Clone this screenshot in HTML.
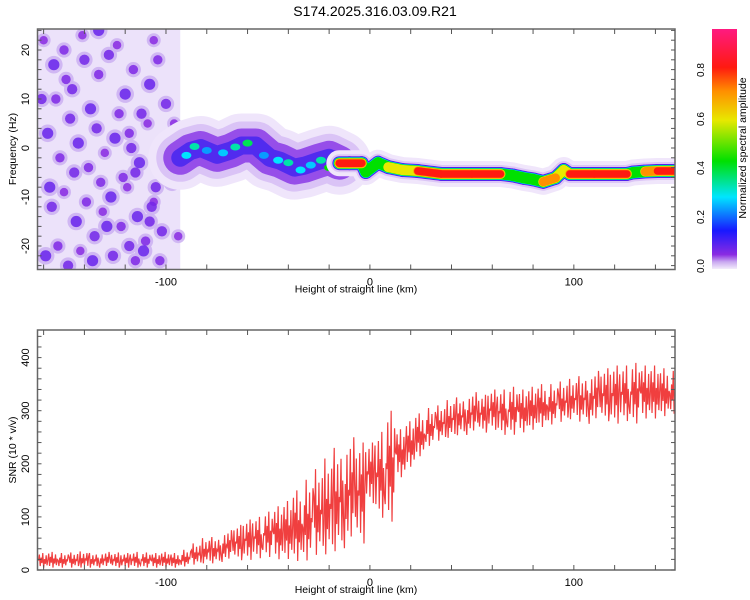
<!DOCTYPE html>
<html><head><meta charset="utf-8"><style>
body{margin:0;background:#fff;}
svg{display:block;font-family:"Liberation Sans",sans-serif;}
</style></head><body>
<svg id="svg" width="750" height="600" viewBox="0 0 750 600">
<defs>
<linearGradient id="cbar" x1="0" y1="1" x2="0" y2="0">
<stop offset="0" stop-color="#f3ecfb"/><stop offset="0.03" stop-color="#c9a8f0"/>
<stop offset="0.06" stop-color="#8a2be2"/><stop offset="0.16" stop-color="#1818ff"/>
<stop offset="0.3" stop-color="#00e5ff"/><stop offset="0.45" stop-color="#00e000"/>
<stop offset="0.62" stop-color="#e8e800"/><stop offset="0.74" stop-color="#ff9000"/>
<stop offset="0.84" stop-color="#ff1a10"/><stop offset="1" stop-color="#ff1a80"/>
</linearGradient>
<clipPath id="clipTop"><rect x="37.5" y="29" width="637.5" height="240.5"/></clipPath>
<clipPath id="clipBot"><rect x="37.5" y="330" width="637.5" height="240"/></clipPath>
</defs>
<text x="375" y="16" text-anchor="middle" font-size="14" fill="#000">S174.2025.316.03.09.R21</text>
<g id="topPanel"></g>
<g id="botPanel"></g>
<g id="cbPanel"></g>
</svg>
<script>
// ---- data ----
const xTicks = [-100, 0, 100];
const freqTicks = [20, 10, 0, -10, -20];
const snrTicks = [0, 100, 200, 300, 400];
const cbTicks = [0.0, 0.2, 0.4, 0.6, 0.8];
const diffuseKm = [-93,-88,-83,-75,-68,-63,-56,-49,-44,-37,-32,-25,-20,-15];
const diffuseHz = [-2,-0.6,0,-1.4,-0.5,0.5,0.5,-2,-2.6,-4,-3.6,-2.6,-2,-3];
const ridgeKm = [-15,-10,-4,-2,4,9,16,23.5,35,50,64,70,75.5,80,85,91,95,98,110,126,129,135,141,150];
const ridgeHz = [-3.1,-3.1,-3.1,-4.9,-3,-3.9,-4.5,-4.7,-5.3,-5.3,-5.3,-5.6,-6.1,-6.4,-6.9,-6.1,-4.5,-5.3,-5.3,-5.3,-5.0,-4.8,-4.7,-4.7];
const ridgeAmp = [0.9,0.9,0.9,0.5,0.6,0.95,0.7,0.9,0.95,0.95,0.95,0.6,0.9,0.6,0.95,0.8,0.7,0.95,0.95,0.95,0.6,0.8,0.95,0.95];
const spotKm = [-90,-86,-80,-72,-66,-60,-52,-45,-40,-34,-29,-24,-20];
const spotHz = [-1.5,0.3,-0.5,-1,0.2,1,-1.5,-2.5,-3,-4.5,-3.5,-2.5,-4];
const spotLvl = [0.3,0.35,0.25,0.28,0.35,0.4,0.25,0.3,0.35,0.3,0.28,0.35,0.45];
const noiseKm = [-160,-155,-150,-146,-141,-137,-133,-128,-124,-120,-116,-112,-108,-104,-100,-96,-158,-152,-147,-143,-138,-134,-130,-125,-121,-117,-113,-109,-105,-101,-97,-156,-150,-144,-139,-135,-131,-127,-122,-118,-114,-110,-106,-102,-159,-153,-148,-142,-136,-132,-126,-119,-115,-111,-107,-103,-98,-94,-161,-157,-149,-140,-129,-123,-115,-106,-99,-154,-145,-133,-118,-108];
const noiseHz = [22,17,20,12,23,8,15,19,21,11,16,7,13,18,9,5,3,-2,6,1,-4,4,-1,2,-6,0,-3,5,-8,-1,-7,-12,-9,-15,-11,-18,-13,-10,-16,-20,-14,-19,-11,-17,-22,-20,-24,-21,-23,-7,-22,-8,-23,-21,-12,-23,-6,-18,10,-8,14,18,-16,7,-5,22,-3,10,-5,24,3,-15];
const noiseLvl = [0.05,0.08,0.06,0.07,0.05,0.08,0.06,0.07,0.05,0.08,0.06,0.07,0.08,0.06,0.07,0.05,0.08,0.06,0.07,0.08,0.06,0.07,0.05,0.08,0.06,0.07,0.08,0.05,0.07,0.06,0.08,0.07,0.05,0.08,0.06,0.07,0.05,0.08,0.06,0.07,0.08,0.06,0.05,0.07,0.08,0.06,0.07,0.05,0.08,0.06,0.07,0.05,0.06,0.08,0.07,0.06,0.08,0.05,0.07,0.08,0.06,0.07,0.08,0.06,0.07,0.05,0.08,0.06,0.07,0.08,0.06,0.07];
const snrBinKm = [];
for (let k=-160;k<=150;k+=5) snrBinKm.push(k);
const snrLow = [3,3,3,3,3,3,3,3,3,3,3,3,3,3,5,8,10,10,12,15,15,18,20,15,15,10,10,20,20,25,30,40,120,90,80,170,190,210,230,240,245,250,250,255,260,250,250,255,260,265,270,275,280,275,270,275,270,275,270,280,280,285,290];
const snrHigh = [32,34,32,33,35,32,34,33,32,34,33,32,34,32,38,50,60,62,75,85,95,100,110,120,130,150,170,190,210,230,250,240,240,260,300,265,280,295,305,310,320,325,335,330,340,340,345,340,345,350,350,355,360,365,375,380,385,385,390,385,385,380,375];

// ---- helpers ----
const NS="http://www.w3.org/2000/svg";
function mk(tag, attrs, parent){const e=document.createElementNS(NS,tag);for(const k in attrs)e.setAttribute(k,attrs[k]);parent.appendChild(e);return e;}
const X0=37.5,X1=675,KM0=-163,KM1=149.6;
const xs = km => X0+(km-KM0)/(KM1-KM0)*(X1-X0);
const yF = hz => 148-hz*4.9;
const yS = v => 570-v*0.531;
const stops=[[0,[243,236,251]],[0.03,[201,168,240]],[0.06,[138,43,226]],[0.16,[24,24,255]],[0.3,[0,229,255]],[0.45,[0,224,0]],[0.62,[232,232,0]],[0.74,[255,144,0]],[0.84,[255,26,16]],[1,[255,26,128]]];
function cmap(v){for(let i=1;i<stops.length;i++){if(v<=stops[i][0]){const a=stops[i-1],b=stops[i],t=(v-a[0])/(b[0]-a[0]);return `rgb(${a[1].map((c,j)=>Math.round(c+(b[1][j]-c)*t)).join(',')})`;}}return 'rgb(255,26,128)';}

// ---- top panel ----
const topPanel=document.getElementById('topPanel');
const tg=mk('g',{'clip-path':'url(#clipTop)'},topPanel);
const noiseBg=mk('rect',{x:X0,y:29,width:xs(-93)-X0,height:241,fill:'#ece2fa'},tg);


for(let i=0;i<noiseKm.length;i++){
  const c=mk('circle',{cx:xs(noiseKm[i]),cy:yF(noiseHz[i]),r:4+noiseLvl[i]*60,fill:'#cdb2f2',opacity:0.9},tg);
  
  
}
for(let i=0;i<noiseKm.length;i++){
  const c=mk('circle',{cx:xs(noiseKm[i]),cy:yF(noiseHz[i]),r:2+noiseLvl[i]*45,fill:cmap(noiseLvl[i]+0.01),opacity:0.85},tg);
  
  
}
const dPts=diffuseKm.map((k,i)=>xs(k)+','+yF(diffuseHz[i])).join(' ');
[[64,'#efe5fb',1],[48,'#d7bff5',0.9],[34,'#8a3ae6',0.85],[18,'#3a20f0',0.75]].forEach(([w,c,o])=>{
  const p=mk('polyline',{points:dPts,fill:'none',stroke:c,'stroke-width':w,'stroke-opacity':o,'stroke-linejoin':'round','stroke-linecap':'round'},tg);
  
  
});
for(let i=0;i<spotKm.length;i++){
  const c=mk('ellipse',{cx:xs(spotKm[i]),cy:yF(spotHz[i]),rx:5,ry:3.5,fill:cmap(spotLvl[i])},tg);
  
  
}
const rPts=ridgeKm.map((k,i)=>xs(k)+','+yF(ridgeHz[i])).join(' ');
[[26,'#f0e6fb'],[18,'#dcc6f6']].forEach(([w,c])=>{
  const halo=mk('polyline',{points:rPts,fill:'none',stroke:c,'stroke-width':w,'stroke-linejoin':'round','stroke-linecap':'round'},tg);
  
  
});
const levels=[0.06,0.16,0.3,0.45,0.62,0.74,0.84];
const widths=[14,13,12,11,10,9,7.5];
levels.forEach((lv,li)=>{
  for(let i=0;i<ridgeKm.length-1;i++){
    const a=Math.min(ridgeAmp[i],ridgeAmp[i+1]);
    if(a<lv) continue;
    const l=mk('line',{x1:xs(ridgeKm[i]),y1:yF(ridgeHz[i]),x2:xs(ridgeKm[i+1]),y2:yF(ridgeHz[i+1]),stroke:cmap(lv),'stroke-width':widths[li],'stroke-linecap':'round'},tg);
    
    
  }
});

function frame(g,y0,y1,yTickVals,yfun,minorY){
  mk('rect',{x:X0,y:y0,width:X1-X0,height:y1-y0,fill:'none',stroke:'#666','stroke-width':1.5},g);
  for(let k=-160;k<=150;k+=20){const x=xs(k);mk('line',{x1:x,y1:y0,x2:x,y2:y0+5,stroke:'#555'},g);mk('line',{x1:x,y1:y1,x2:x,y2:y1-5,stroke:'#555'},g);}
  minorY.forEach(v=>{const y=yfun(v);mk('line',{x1:X0,y1:y,x2:X0+4,y2:y,stroke:'#555'},g);mk('line',{x1:X1,y1:y,x2:X1-4,y2:y,stroke:'#555'},g);});
  xTicks.forEach(v=>{const t=mk('text',{x:xs(v),y:y1+16,'text-anchor':'middle','font-size':11},g);t.textContent=v;
    
    });
  yTickVals.forEach(v=>{const y=yfun(v);const t=mk('text',{x:0,y:0,'text-anchor':'middle','font-size':11,transform:`translate(29,${y}) rotate(-90)`},g);t.textContent=v;
    
    });
  const xt=mk('text',{x:356,y:y1+23,'text-anchor':'middle','font-size':10.5},g);xt.textContent='Height of straight line (km)';
  
  
}
const minorF=[];for(let h=-24;h<=24;h+=2)minorF.push(h);
frame(topPanel,29,269.5,freqTicks,yF,minorF);
const yt1=mk('text',{x:0,y:0,'text-anchor':'middle','font-size':10.5,transform:'translate(16,149) rotate(-90)'},topPanel);yt1.textContent='Frequency (Hz)';



// ---- bottom panel ----
const botPanel=document.getElementById('botPanel');
const bgG=mk('g',{'clip-path':'url(#clipBot)'},botPanel);
const pat=[0.5,0.9,0.15,0.7,0.35,1,0.05,0.6,0.3,0.85,0.2,0.55];
let pts=[];
for(let i=0;i<snrBinKm.length;i++){
  for(let j=0;j<12;j++){
    const k=snrBinKm[i]-2.5+j*5/12;
    const v=snrLow[i]+(snrHigh[i]-snrLow[i])*pat[(j+i)%12];
    pts.push(xs(k).toFixed(2)+','+yS(v).toFixed(2));
  }
}
const snrLine=mk('polyline',{points:pts.join(' '),fill:'none',stroke:'#ee2a2a','stroke-width':1.2,'stroke-opacity':0.9},bgG);


const minorS=[];for(let v=0;v<=440;v+=20)minorS.push(v);
frame(botPanel,330,570,snrTicks,yS,minorS);
const yt2=mk('text',{x:0,y:0,'text-anchor':'middle','font-size':10.5,transform:'translate(16,450) rotate(-90)'},botPanel);yt2.textContent='SNR (10 * v/v)';



// ---- colorbar ----
const cbPanel=document.getElementById('cbPanel');
const cbY=v=>266-v*245;
const cbr=mk('rect',{x:712,y:29,width:25,height:240,fill:'url(#cbar)'},cbPanel);


cbTicks.forEach(v=>{const t=mk('text',{x:0,y:0,'text-anchor':'middle','font-size':10,transform:`translate(704,${cbY(v)}) rotate(-90)`},cbPanel);t.textContent=v.toFixed(1);
  
  });
const cbt=mk('text',{x:0,y:0,'text-anchor':'middle','font-size':10.5,transform:'translate(746,148) rotate(-90)'},cbPanel);cbt.textContent='Normalized spectral amplitude';


</script>
</body></html>
